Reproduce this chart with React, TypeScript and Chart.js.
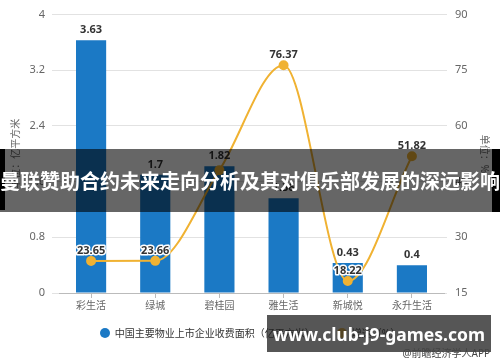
import React, { useEffect, useRef } from "react";
import { Chart, registerables } from "chart.js";

Chart.register(...registerables);

const categories = ["彩生活", "绿城", "碧桂园", "雅生活", "新城悦", "永升生活"];
const areaValues = [3.63, 1.7, 1.82, 1.36, 0.43, 0.4];
const growthValues = [23.65, 23.66, 48.1, 76.37, 18.22, 51.82];
const leftTicks = [0, 0.8, 1.6, 2.4, 3.2, 4];
const rightTicks = [15, 30, 45, 60, 75, 90];
const seriesNames = ["中国主要物业上市企业收费面积（亿平方米）", "增速（%）"];
const leftTitle = "单位：亿平方米";
const rightTitle = "单位：%";
const hiddenGrowthLabels = [2];
const bannerText = "曼联赞助合约未来走向分析及其对俱乐部发展的深远影响";
const siteText = "www.club-j9-games.com";
const sourceText = "@前瞻经济学人APP";

const BAR = "#1b79c5";
const LINE = "#f0b232";
const FAMILY = "'Noto Sans', 'Noto Sans CJK SC', sans-serif";

const labelPlugin = {
  id: "valueLabels",
  afterDatasetsDraw(chart: any) {
    const ctx = chart.ctx;
    ctx.save();
    ctx.font = `bold 11px ${FAMILY}`;
    ctx.textAlign = "center";
    ctx.textBaseline = "middle";
    const barMeta = chart.getDatasetMeta(0);
    barMeta.data.forEach((el: any, i: number) => {
      ctx.fillStyle = "#333";
      ctx.fillText(String(areaValues[i]), el.x, el.y - 10);
    });
    const lineMeta = chart.getDatasetMeta(1);
    lineMeta.data.forEach((el: any, i: number) => {
      if (hiddenGrowthLabels.includes(i)) return;
      const t = growthValues[i].toFixed(2);
      ctx.lineWidth = 3;
      ctx.strokeStyle = "#fff";
      ctx.lineJoin = "round";
      ctx.strokeText(t, el.x, el.y - 10);
      ctx.fillStyle = "#333";
      ctx.fillText(t, el.x, el.y - 10);
    });
    ctx.restore();
  },
};

export default function App() {
  const ref = useRef<HTMLCanvasElement | null>(null);

  useEffect(() => {
    if (!ref.current) return;
    Chart.defaults.font.family = FAMILY;
    const chart = new Chart(ref.current, {
      type: "bar",
      data: {
        labels: categories,
        datasets: [
          {
            type: "bar",
            label: seriesNames[0],
            data: areaValues,
            backgroundColor: BAR,
            barPercentage: 0.47,
            categoryPercentage: 1,
            yAxisID: "y",
            order: 2,
          } as any,
          {
            type: "line",
            label: seriesNames[1],
            data: growthValues,
            borderColor: LINE,
            backgroundColor: LINE,
            borderWidth: 2,
            pointRadius: 4,
            pointBackgroundColor: LINE,
            pointBorderColor: LINE,
            cubicInterpolationMode: "monotone",
            yAxisID: "y1",
            order: 1,
          } as any,
        ],
      },
      options: {
        responsive: false,
        animation: false,
        devicePixelRatio: 1,
        layout: { padding: { top: 10, bottom: 49, left: 0, right: 0 } },
        plugins: { legend: { display: false }, tooltip: { enabled: false } },
        scales: {
          x: {
            grid: { display: true, drawOnChartArea: false, offset: false, tickLength: 5, color: "#bbb" },
            border: { color: "#bbb" },
            ticks: { color: "#666", font: { size: 10 }, padding: 2, maxRotation: 0, autoSkip: false },
            afterFit: (s: any) => {
              s.height = 20;
            },
          },
          y: {
            position: "left",
            min: 0,
            max: 4,
            afterBuildTicks: (s: any) => {
              s.ticks = leftTicks.map((v) => ({ value: v }));
            },
            grid: { color: "#e2e2e2", tickLength: 7 },
            border: { display: false },
            ticks: { color: "#666", font: { size: 11 }, padding: 7, callback: (v: any) => String(v) },
            title: { display: true, text: leftTitle, color: "#666", font: { size: 10 }, padding: { top: 10, bottom: 0 } },
            afterFit: (s: any) => {
              s.width = 59;
            },
          },
          y1: {
            position: "right",
            min: 15,
            max: 90,
            afterBuildTicks: (s: any) => {
              s.ticks = rightTicks.map((v) => ({ value: v }));
            },
            grid: { drawOnChartArea: false, tickLength: 3, color: "#e2e2e2" },
            border: { display: false },
            ticks: { color: "#666", font: { size: 11 }, padding: 8, callback: (v: any) => String(v) },
            title: { display: true, text: rightTitle, color: "#666", font: { size: 10 }, padding: { top: 10, bottom: 0 } },
            afterFit: (s: any) => {
              s.width = 56;
            },
          },
        },
      } as any,
      plugins: [labelPlugin],
    });
    return () => chart.destroy();
  }, []);

  return (
    <div style={{ position: "absolute", left: 0, top: 0, width: 500, height: 362, background: "#fff", overflow: "hidden", fontFamily: FAMILY }}>
      <canvas ref={ref} width={500} height={362} style={{ display: "block" }} />
      <div style={{ position: "absolute", left: 0, top: 326, width: 500, display: "flex", justifyContent: "center", alignItems: "center", fontSize: 10, color: "#333", lineHeight: "14px" }}>
        <span style={{ width: 10, height: 10, borderRadius: 5, background: BAR, display: "inline-block", marginRight: 5 }} />
        <span>{seriesNames[0]}</span>
        <span style={{ width: 10, height: 10, borderRadius: 5, background: LINE, display: "inline-block", marginLeft: 22, marginRight: 5 }} />
        <span>{seriesNames[1]}</span>
      </div>
      <div style={{ position: "absolute", left: 0, top: 149, width: 500, height: 63, background: "rgba(0,0,0,0.6)" }} />
      <div style={{ position: "absolute", left: 0, top: 149, width: 5, height: 61, background: "#000" }} />
      <div style={{ position: "absolute", left: 492, top: 149, width: 8, height: 63, background: "#000" }} />
      <div style={{ position: "absolute", left: -20, top: 149, width: 540, height: 63, display: "flex", alignItems: "center", justifyContent: "center", color: "#fff", fontWeight: "bold", fontSize: 20, whiteSpace: "nowrap", fontFamily: "'Noto Sans CJK SC', sans-serif" }}>
        {bannerText}
      </div>
      <div style={{ position: "absolute", left: 267, top: 315, width: 224, height: 37, background: "rgba(30,30,30,0.75)", display: "flex", alignItems: "center", justifyContent: "center", color: "#fff", fontWeight: "bold", fontSize: 17.5, whiteSpace: "nowrap", fontFamily: "'Noto Sans', sans-serif" }}>
        {siteText}
      </div>
      <div style={{ position: "absolute", right: 10, top: 346, fontSize: 10, color: "#444", lineHeight: "14px" }}>{sourceText}</div>
    </div>
  );
}
